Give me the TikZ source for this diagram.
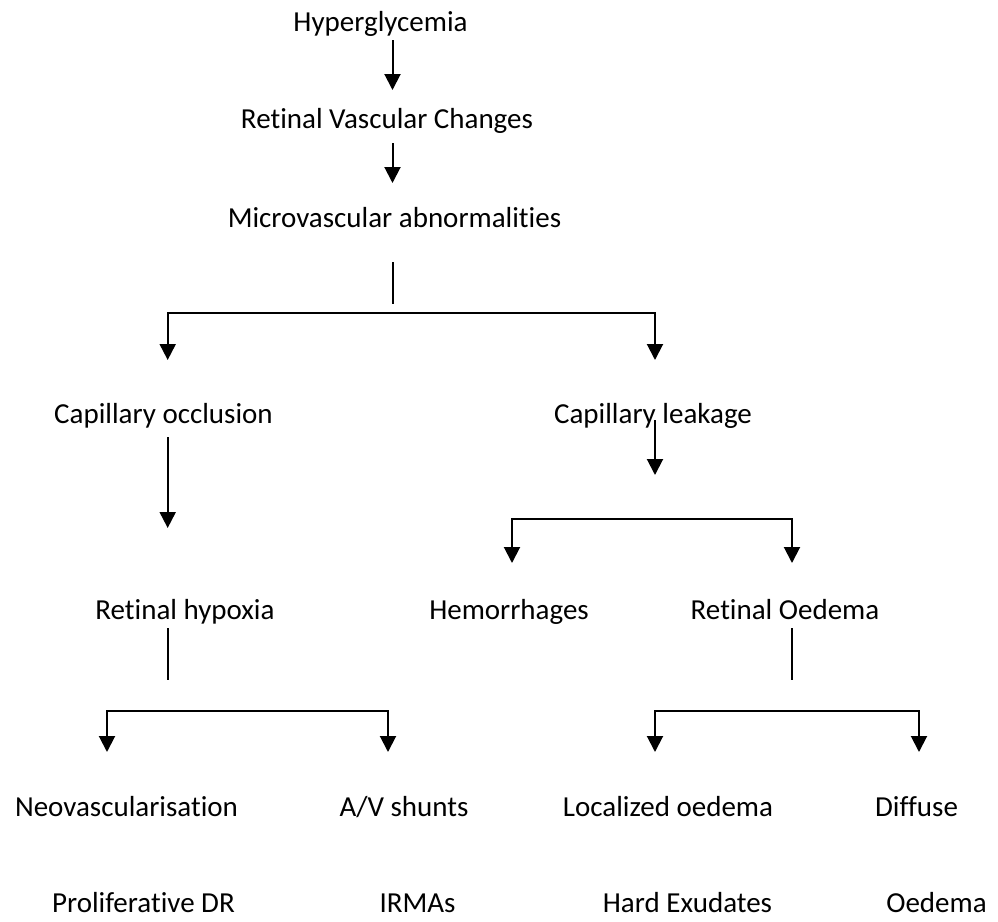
\documentclass[tikz,border=0pt]{standalone}
\usepackage{fontspec}
\setmainfont{Carlito}[Ligatures={NoCommon,NoRequired,NoContextual}]
\usetikzlibrary{arrows.meta}

\tikzset{
  term/.style={anchor=base, inner sep=0pt, font=\fontsize{14.5}{17.4}\selectfont},
  stem/.style={line width=1pt},
  flow/.style={stem, -{Triangle[width=8pt,length=8pt]}},
  fork/.style={stem, {Triangle[width=8pt,length=8pt]}-{Triangle[width=8pt,length=8pt]}}
}

\begin{document}
\begin{tikzpicture}[x=0.5pt, y=-0.5pt]
  \useasboundingbox (0,0) rectangle (998,922);

  % terms
  \node[term] (hyper) at (380.5,31) {Hyperglycemia};
  \node[term] (retvasc) at (387,128) {Retinal Vascular Changes};
  \node[term] (micro) at (394.5,227) {Microvascular abnormalities};
  \node[term] (capocc) at (163.5,423) {Capillary occlusion};
  \node[term] (capleak) at (653,423) {Capillary leakage};
  \node[term] (hypoxia) at (185,619) {Retinal hypoxia};
  \node[term] (hemor) at (509,619) {Hemorrhages};
  \node[term] (retoed) at (785,619) {Retinal Oedema};
  \node[term] (neovasc) at (126.5,816) {Neovascularisation};
  \node[term] (avshunt) at (404,816) {A/V shunts};
  \node[term] (localoed) at (668,816) {Localized oedema};
  \node[term] (diffuse) at (916.5,816) {Diffuse};
  \node[term] (prolif) at (143.5,912) {Proliferative DR};
  \node[term] (irma) at (417.5,912) {IRMAs};
  \node[term] (hardex) at (687.5,912) {Hard Exudates};
  \node[term] (oedema) at (936.5,912) {Oedema};

  % arrow tips and branch points
  \coordinate (tip1) at (392.5,90);
  \coordinate (tip2) at (392.5,183);
  \coordinate (split1) at (392.5,313);
  \coordinate (tip3a) at (167.7,360);
  \coordinate (tip3b) at (655,360);
  \coordinate (tip4) at (167.7,528);
  \coordinate (tip5) at (655,475);
  \coordinate (split2) at (655,519);
  \coordinate (tip6a) at (512,563);
  \coordinate (tip6b) at (792,563);
  \coordinate (split3) at (167.7,710.7);
  \coordinate (tip7a) at (107,752);
  \coordinate (tip7b) at (388,752);
  \coordinate (split4) at (792,710.7);
  \coordinate (tip8a) at (655,752);
  \coordinate (tip8b) at (919,752);

  % connectors
  \draw[flow, shorten <=4.5pt] (hyper.base -| tip1) -- (tip1);
  \draw[flow, shorten <=7.5pt] (retvasc.base -| tip2) -- (tip2);
  \draw[stem, shorten <=17.5pt, shorten >=4.5pt] (micro.base -| split1) -- (split1);
  \draw[fork] (tip3a) |- (split1) -| (tip3b);
  \draw[flow, shorten <=7pt] (capocc.base -| tip4) -- (tip4);
  \draw[flow, shorten <=-1.5pt] (capleak.base -| tip5) -- (tip5);
  \draw[fork] (tip6a) |- (split2) -| (tip6b);
  \draw[stem, shorten <=4.5pt, shorten >=15.3pt] (hypoxia.base -| split3) -- (split3);
  \draw[fork] (tip7a) |- (split3) -| (tip7b);
  \draw[stem, shorten <=4.5pt, shorten >=15.3pt] (retoed.base -| split4) -- (split4);
  \draw[fork] (tip8a) |- (split4) -| (tip8b);
\end{tikzpicture}
\end{document}
